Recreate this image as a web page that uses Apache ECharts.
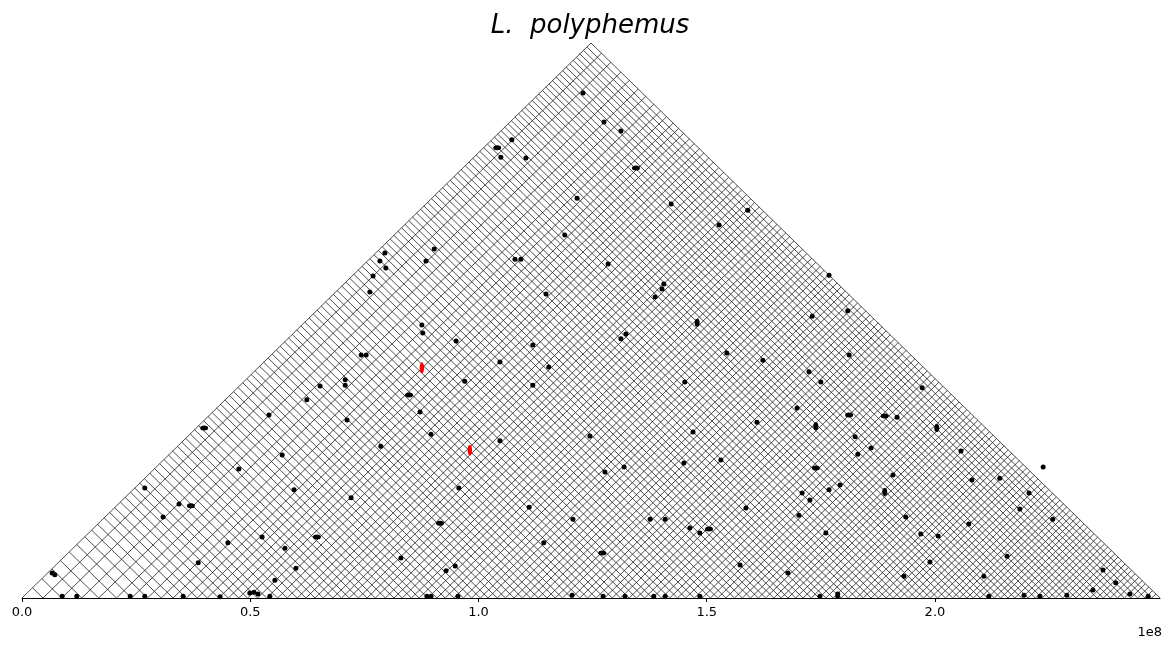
<!DOCTYPE html>
<html>
<head>
<meta charset="utf-8">
<script src="https://cdn.jsdelivr.net/npm/echarts@6/dist/echarts.min.js"></script>
<style>
  html, body { margin: 0; padding: 0; background: #fff; }
  #chart { width: 1171px; height: 645px; }
</style>
</head>
<body>
<div id="chart"></div>
<script>
// Scaffold lengths in Mb, in assembly order
const contigSizes = [
  4.6, 4.1, 4.4, 3.7, 3.9, 3.3, 3.5, 3.0,
  2.6, 2.9, 2.4, 2.2, 2.5, 2.1, 2.3, 1.9, 2.2, 2.0, 2.4, 2.1, 2.2,
  1.9, 2.0, 1.8, 2.1, 1.9, 1.7, 2.0, 1.9, 1.8, 2.2, 1.9, 1.8, 2.0, 1.7, 1.9,
  2.0, 1.8, 1.9, 2.1, 1.8, 1.9, 1.7, 2.0, 1.8, 1.9, 1.8,
  1.8, 1.7, 1.9, 1.8, 1.6, 2.0, 1.8, 1.7, 1.9, 1.8, 1.7, 1.8, 1.9, 1.6, 1.8,
  1.7, 2.0, 1.8, 1.7, 1.8, 1.9, 1.7, 1.8, 1.6, 1.8, 1.9, 1.7, 1.8,
  1.7, 1.6, 1.8, 1.6, 1.5, 1.7, 1.6, 1.8, 1.7, 1.5, 1.6, 1.7, 1.6, 1.8, 1.5,
  1.7, 1.6, 1.7, 1.6, 1.5, 1.8, 1.6, 1.7, 1.5, 1.6, 1.7, 1.6,
  1.5, 1.6, 1.4, 1.5, 1.6, 1.5, 1.4, 1.6, 1.5, 1.5, 1.4, 1.6, 1.5, 1.5, 1.4,
  1.6, 1.5, 1.4, 1.5, 1.6, 1.5, 1.4, 1.5, 1.6, 1.5, 1.4, 1.5, 1.6, 1.5, 1.8
];

// Contact hits: [midpoint position (Mb), half separation (Mb)]
const hits = [
  [122.9, 113.4], [107.3, 102.9], [104.9, 99.0], [110.4, 98.8], [127.5, 106.9],
  [131.2, 104.9], [121.6, 89.8], [142.2, 88.5], [159.0, 87.1], [152.7, 83.8],
  [118.9, 81.5], [90.3, 78.4], [88.5, 75.7], [79.5, 77.5], [78.4, 75.7],
  [79.7, 74.1], [76.9, 72.3], [108.0, 76.1], [109.3, 76.1], [128.4, 75.0],
  [114.8, 68.3], [140.6, 70.5], [140.2, 69.4], [138.7, 67.6], [76.2, 68.7],
  [176.8, 72.5], [132.3, 59.3], [131.2, 58.2], [87.6, 61.3], [87.8, 59.5],
  [95.1, 57.7], [111.9, 56.8], [180.9, 64.5], [181.2, 54.6], [173.1, 63.3],
  [162.3, 53.4], [154.4, 55.0], [74.3, 54.6], [75.4, 54.6], [115.4, 51.9],
  [70.8, 49.0], [70.8, 47.8], [65.3, 47.6], [62.4, 44.5], [97.0, 48.7],
  [104.7, 53.0], [111.9, 47.8], [87.2, 41.8], [145.2, 48.5], [172.4, 50.8],
  [175.0, 48.5], [54.1, 41.1], [71.2, 40.0], [78.6, 34.1], [89.6, 36.8],
  [104.7, 35.3], [124.4, 36.4], [147.0, 37.3], [169.8, 42.7], [182.5, 36.2],
  [191.7, 40.6], [197.2, 47.2], [186.0, 33.7], [205.7, 33.0], [57.0, 32.1],
  [47.5, 29.0], [127.7, 28.3], [131.9, 29.4], [145.0, 30.3], [153.1, 31.0],
  [183.1, 32.3], [176.8, 24.3], [179.2, 25.4], [170.9, 23.6], [172.6, 22.0],
  [190.8, 27.6], [208.1, 26.5], [214.2, 26.9], [220.6, 23.6], [223.7, 29.4],
  [218.6, 20.0], [26.9, 24.7], [59.6, 24.3], [72.1, 22.5], [34.4, 21.1],
  [30.9, 18.2], [95.7, 24.7], [111.1, 20.4], [120.7, 17.7], [137.6, 17.7],
  [140.9, 17.7], [146.3, 15.7], [148.5, 14.6], [158.6, 20.2], [170.2, 18.6],
  [176.1, 14.6], [193.6, 18.2], [196.9, 14.4], [207.4, 16.6], [200.7, 13.9],
  [225.8, 17.7], [52.6, 13.7], [45.1, 12.4], [57.6, 11.2], [114.3, 12.4],
  [83.0, 9.0], [38.6, 7.9], [60.0, 6.7], [55.4, 4.0], [6.6, 5.6],
  [7.2, 5.2], [92.9, 6.1], [94.9, 7.2], [157.3, 7.4], [167.8, 5.6],
  [215.8, 9.4], [198.9, 8.1], [193.2, 4.9], [210.7, 4.9], [236.8, 6.3],
  [239.6, 3.4], [234.6, 1.8], [242.7, 0.9], [161.0, 39.5],
  [8.8, 0.4], [12.0, 0.4], [23.7, 0.4], [26.9, 0.4], [35.3, 0.4],
  [43.4, 0.3], [49.9, 1.1], [50.8, 1.3], [51.7, 0.9], [54.3, 0.4],
  [88.7, 0.4], [89.6, 0.4], [95.5, 0.4], [120.5, 0.6], [132.1, 0.4],
  [148.5, 0.4], [174.8, 0.4], [178.7, 0.4], [178.7, 0.9], [211.8, 0.4],
  [223.0, 0.4], [246.7, 0.4], [127.3, 0.4], [138.4, 0.4], [140.9, 0.4],
  [219.5, 0.6], [228.9, 0.6]
];

// Hits that form wider smears
const wideHits = [
  [104.1, 101.1], [134.5, 96.6], [84.8, 45.6], [39.9, 38.2], [181.2, 41.1],
  [189.0, 40.9], [173.9, 29.2], [37.0, 20.7], [91.6, 16.8], [150.5, 15.5],
  [64.6, 13.7], [127.1, 10.1]
];

// Hits that are taller than wide
const tallHits = [
  [147.9, 61.8], [173.9, 38.6], [200.4, 38.2], [189.0, 23.8]
];

// Highlighted hits
const highlightHits = [
  [87.6, 51.7], [98.1, 33.2]
];

const tickValues = [0, 50, 100, 150, 200];
const tickLabels = ['0.0', '0.5', '1.0', '1.5', '2.0'];
const offsetLabel = '1e8';
const titleText = 'L.  polyphemus';

// Boundaries between scaffolds
const bounds = [0];
contigSizes.forEach(s => bounds.push(+(bounds[bounds.length - 1] + s).toFixed(3)));
const L = bounds[bounds.length - 1];

// Each boundary draws two rays: one up-left to the left edge, one up-right to the right edge
const gridSegments = [];
bounds.forEach(b => {
  if (b > 0) gridSegments.push({ coords: [[b, 0], [b / 2, b / 2]] });
  if (b < L) gridSegments.push({ coords: [[b, 0], [(b + L) / 2, (L - b) / 2]] });
});

const ellipsePath = 'path://M0,10 A5,10 0 1,1 10,10 A5,10 0 1,1 0,10 Z';

const chart = echarts.init(document.getElementById('chart'), null, { renderer: 'canvas' });
chart.setOption({
  animation: false,
  backgroundColor: '#fff',
  grid: { left: 22, right: 11, top: 43, bottom: 47, containLabel: false },
  xAxis: {
    type: 'value', min: 0, max: L,
    splitLine: { show: false },
    axisLine: { show: true, onZero: false, lineStyle: { color: '#000', width: 1 } },
    axisTick: { show: true, length: 4, lineStyle: { color: '#000', width: 1 }, customValues: tickValues },
    axisLabel: {
      customValues: tickValues,
      margin: 8, color: '#000', fontSize: 13, fontFamily: 'DejaVu Sans',
      formatter: v => tickLabels[tickValues.indexOf(v)] || ''
    }
  },
  yAxis: { type: 'value', min: 0, max: L / 2, show: false },
  series: [
    {
      type: 'lines', coordinateSystem: 'cartesian2d', polyline: false, silent: true,
      data: gridSegments,
      lineStyle: { color: '#222', width: 0.8, opacity: 1 },
      z: 1
    },
    {
      type: 'scatter', data: hits, symbol: 'circle', symbolSize: 5, silent: true,
      itemStyle: { color: '#000', opacity: 1 }, z: 3
    },
    {
      type: 'scatter', data: wideHits, symbol: ellipsePath, symbolSize: [8, 5], silent: true,
      itemStyle: { color: '#000', opacity: 1 }, z: 3
    },
    {
      type: 'scatter', data: tallHits, symbol: ellipsePath, symbolSize: [5, 8], silent: true,
      itemStyle: { color: '#000', opacity: 1 }, z: 3
    },
    {
      type: 'scatter', data: highlightHits, symbol: ellipsePath, symbolSize: [4.5, 11], silent: true,
      itemStyle: { color: '#ff0000', opacity: 1 }, z: 4
    }
  ],
  graphic: [
    {
      type: 'text', x: 590, y: 26,
      style: {
        text: titleText, textAlign: 'center', textVerticalAlign: 'middle',
        font: 'italic 26px "DejaVu Sans"', fill: '#000'
      }
    },
    {
      type: 'text', x: 1162, y: 633,
      style: {
        text: offsetLabel, textAlign: 'right', textVerticalAlign: 'middle',
        font: '13px "DejaVu Sans"', fill: '#000'
      }
    }
  ]
});
</script>
</body>
</html>
